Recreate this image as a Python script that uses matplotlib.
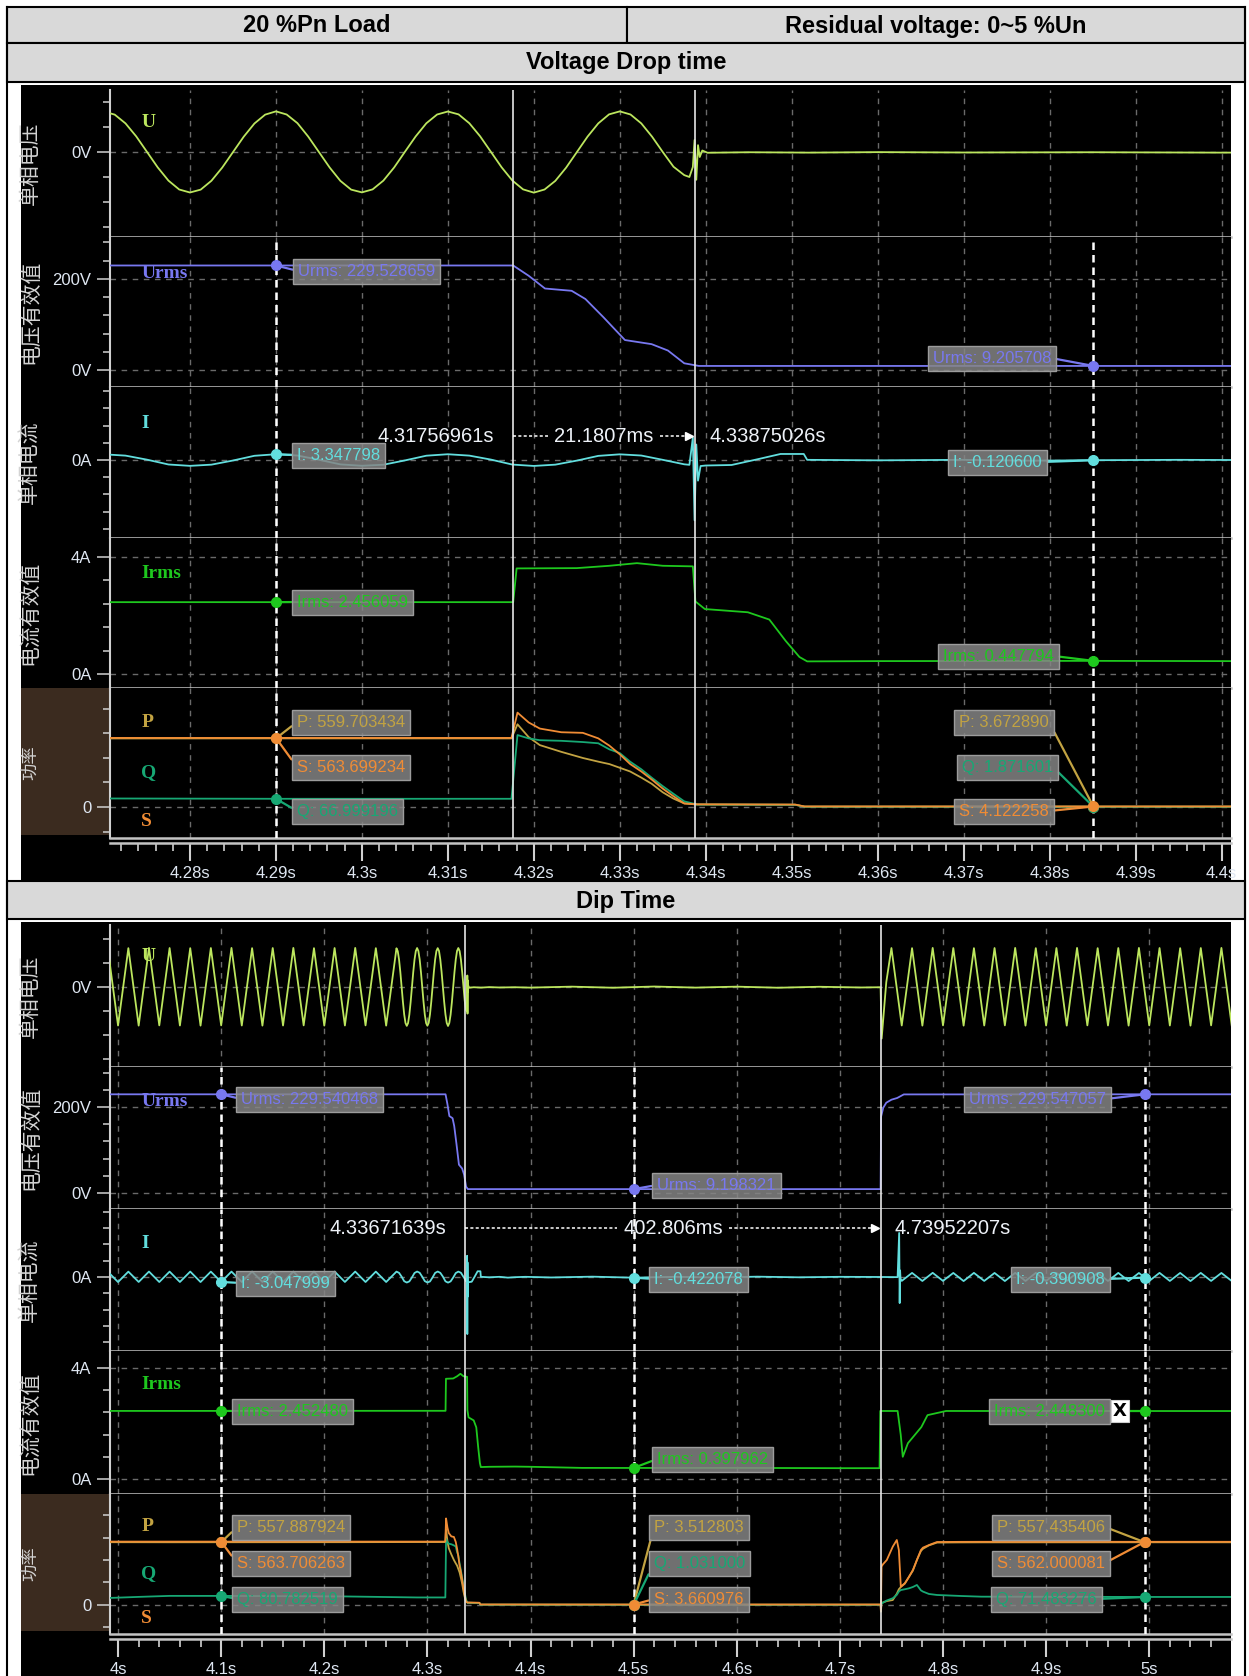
import numpy as np
import matplotlib
matplotlib.use("Agg")
import matplotlib.pyplot as plt
from matplotlib.patches import Rectangle
from matplotlib.lines import Line2D

W, H = 1249, 1676

# ---------------- recorded data ----------------
# phase voltage U (V): half-cycle extremes before the fine window
u_pre_t0, u_pre_dt = 3.99, 0.01
u_pre = [325, -321, 324, -322, 326, -320, 325, -321, 324, -322, 325, -320, 326, -321,
         324, -322, 325, -321, 326, -320, 324, -322, 325, -321, 326, -320, 324, -322]
# fine window around the drop, 1.25 ms samples
u_fine_t0, u_fine_dt = 4.27, 0.00125
u_fine = [323, 299, 229, 125, 1, -123, -229, -300, -324, -301, -230, -125, -2, 122, 228, 299,
          325, 300, 231, 124, 0, -124, -231, -301, -323, -299, -229, -124, 1, 124, 230, 300,
          324, 301, 230, 126, 2, -122, -228, -299, -325, -300, -231, -126, -1, 123, 229, 301,
          325, 300, 229, 123, 0, -118, -185]
# switching transient, dip, restart
u_tail_t = [4.3381, 4.3385, 4.3387, 4.3389, 4.3391, 4.3393, 4.3396, 4.3402, 4.3450, 4.3520,
            4.3600, 4.3700, 4.3850, 4.4000, 4.4400, 4.4800, 4.5200, 4.5600, 4.6000, 4.6400,
            4.6800, 4.7200, 4.7395, 4.7405, 4.7450]
u_tail = [-200, -120, 96, -222, 55, -40, 12, -6, -2, -5, -1, -4, -2, -5, 3, -6, 4, -5, 3, -6,
          2, -4, -2, -430, 40]
# after restoration: half-cycle extremes
u_post_t0, u_post_dt = 4.75, 0.01
u_post = [325, -321, 324, -322, 326, -320, 325, -322, 324, -321, 325, -320, 326, -322, 324, -321,
          325, -322, 326, -320, 324, -321, 325, -322, 326, -320, 325, -321, 324, -322, 325, -320,
          326, -321]

# phase current I (A)
i_pre_t0, i_pre_dt = 3.99, 0.01
i_pre = [3.31, -3.10, 3.28, -3.05, 3.33, -3.08, 3.30, -3.06, 3.32, -3.09, 3.29, -3.047999,
         3.31, -3.07, 3.34, -3.05, 3.30, -3.08, 3.32, -3.06, 3.29, -3.10, 3.33, -3.05,
         3.31, -3.08, 3.30, -3.07]
i_fine_t0, i_fine_dt = 4.27, 0.0025
i_fine = [3.30, 2.55, 0.20, -2.60, -3.40, -2.70, -0.30, 2.45,
          3.347798, 2.60, 0.15, -2.55, -3.35, -2.75, -0.25, 2.50,
          3.35, 2.55, 0.25, -2.65, -3.45, -2.70, -0.35, 2.40,
          3.30, 2.60, 0.10, -2.50]
i_tail_t = [4.3381, 4.3385, 4.3387, 4.3389, 4.3391, 4.3394, 4.3400, 4.3430, 4.3460, 4.3487,
            4.3514, 4.3518, 4.3600, 4.3700, 4.3780, 4.3851, 4.3950, 4.4200, 4.4600, 4.5000,
            4.5400, 4.5800, 4.6200, 4.6600, 4.7000, 4.7395, 4.7560, 4.7575, 4.7580, 4.7584,
            4.7588, 4.7600]
i_tail = [-2.8, 13.0, -35.0, 9.0, -12.0, -3.5, -3.2, -2.9, 0.4, 3.5, 3.5, 0.1, -0.2, 0.1, -0.4,
          -0.1206, 0.1, -0.3, 0.2, -0.422078, 0.1, -0.3, 0.2, -0.2, 0.1, 0.0, -0.1, 27.0, -16.0,
          4.0, -1.0, -2.4]
i_post_t0, i_post_dt = 4.77, 0.01
i_post = [2.50, -2.45, 2.55, -2.40, 2.48, -2.50, 2.52, -2.42, 2.47, -2.48, 2.53, -2.44,
          2.50, -2.46, 2.49, -2.41, 2.54, -2.47, 2.46, -2.43, 2.51, -2.49, 2.45, -2.45,
          2.52, -2.44, 2.48, -2.50, 2.50, -2.42, 2.47, -2.46]

# RMS voltage (V)
urms_t = [3.99, 4.10, 4.20, 4.29, 4.3176, 4.3194, 4.3213, 4.3244, 4.3260, 4.3281, 4.3306,
          4.3337, 4.3356, 4.3375, 4.3392, 4.3851, 4.5000, 4.7395, 4.7400, 4.7420, 4.7450,
          4.7500, 4.7556, 4.7620, 4.9958, 5.08]
urms = [229.54, 229.540468, 229.53, 229.528659, 229.52, 207, 179, 174, 156, 116, 66, 57, 43,
        15, 9.2, 9.205708, 9.198321, 9.2, 178, 198, 210, 217, 221, 229.3, 229.547057, 229.55]

# RMS current (A)
irms_t = [3.99, 4.10, 4.29, 4.3176, 4.3180, 4.3250, 4.3288, 4.3320, 4.3350, 4.3385, 4.3388,
          4.3399, 4.3449, 4.3474, 4.3493, 4.3509, 4.3518, 4.3600, 4.3851, 4.4000, 4.4500,
          4.5000, 4.6000, 4.7000, 4.7385, 4.7392, 4.7560, 4.7590, 4.7610, 4.7660, 4.7790,
          4.7850, 4.8030, 4.9958, 5.08]
irms = [2.452, 2.452480, 2.456059, 2.456, 3.61, 3.62, 3.70, 3.79, 3.70, 3.68, 2.48, 2.22, 2.11,
        1.86, 1.13, 0.58, 0.43, 0.44, 0.447794, 0.44, 0.40, 0.397962, 0.40, 0.39, 0.39, 2.45,
        2.45, 1.60, 0.80, 1.29, 1.87, 2.30, 2.45, 2.448300, 2.448]

# power: P (W), Q (var), S (VA) on one time base
pw_t = [3.99, 4.02, 4.05, 4.10, 4.22, 4.29, 4.3174, 4.3181, 4.3194, 4.3207, 4.3232, 4.3257,
        4.3275, 4.3288, 4.3300, 4.3312, 4.3325, 4.3337, 4.3350, 4.3362, 4.3375, 4.3390,
        4.3504, 4.3515, 4.3851, 4.5000, 4.7395, 4.7398, 4.7404, 4.7416, 4.7455, 4.7513,
        4.7552, 4.7572, 4.7591, 4.7630, 4.7670, 4.7708, 4.7747, 4.7786, 4.7806, 4.7864,
        4.7942, 4.8176, 4.8370, 4.9958, 5.08]
p_w = [558.2, 558.0, 557.6, 557.887924, 558.4, 559.703434, 559.7, 675, 570, 505, 450, 400,
       370, 350, 320, 290, 240, 190, 120, 70, 29, 20, 18, 3.7, 3.672890, 3.512803, 3.5, -60,
       15, 22, 35, 44, 100, 140, 160, 190, 250, 305, 400, 480, 500, 530, 555, 556.5, 557,
       557.435406, 557.4]
q_var = [62, 72, 81, 80.782519, 76, 66.999196, 67, 587, 560, 545, 540, 530, 520, 470, 440,
         370, 308, 240, 170, 110, 46, 20, 18, 1.9, 1.871601, 1.031, 1.0, 0, 10, 20, 40, 60,
         90, 120, 133, 140, 148, 160, 178, 130, 119, 98, 89, 80, 74, 71.483276, 71.5]
s_va = [563.7, 563.7, 563.7, 563.706263, 563.7, 563.699234, 563.7, 770, 690, 640, 610, 605,
        560, 500, 430, 351, 290, 225, 150, 90, 29, 22, 20, 4.1, 4.122258, 3.660976, 3.7, -45,
        341, 360, 400, 519, 578, 489, 163, 193, 250, 311, 400, 489, 510, 533, 560, 561.5, 562,
        562.000081, 562.0]

row_titles = ['单相电压', '电压有效值', '单相电流', '电流有效值', '功率']


def seg(t0, dt, vals):
    return t0 + dt * np.arange(len(vals))


u_t = np.concatenate([seg(u_pre_t0, u_pre_dt, u_pre), seg(u_fine_t0, u_fine_dt, u_fine),
                      u_tail_t, seg(u_post_t0, u_post_dt, u_post)])
u_v = np.concatenate([u_pre, u_fine, u_tail, u_post])
i_t = np.concatenate([seg(i_pre_t0, i_pre_dt, i_pre), seg(i_fine_t0, i_fine_dt, i_fine),
                      i_tail_t, seg(i_post_t0, i_post_dt, i_post)])
i_v = np.concatenate([i_pre, i_fine, i_tail, i_post])

COL = dict(U='#bce65e', Urms='#7878f0', I='#62dede', Irms='#1ec81e',
           P='#c2a342', Q='#17a874', S='#f08c35')

SERIES = [
    [('U', u_t, u_v)],
    [('Urms', urms_t, urms)],
    [('I', i_t, i_v)],
    [('Irms', irms_t, irms)],
    [('P', pw_t, p_w), ('Q', pw_t, q_var), ('S', pw_t, s_va)],
]
NAMES = [[('U', .22)], [('Urms', .24)], [('I', .24)], [('Irms', .235)],
         [('P', .23), ('Q', .565), ('S', .89)]]
YTICKS = [
    ([0], ['0V'], [-600, -400, -200, 200, 400]),
    ([0, 200], ['0V', '200V'], [40, 80, 120, 160, 240, 280]),
    ([0], ['0A'], [-40, -30, -20, -10, 10, 20, 30, 40]),
    ([0, 4], ['0A', '4A'], [0.8, 1.6, 2.4, 3.2]),
    ([0], ['0'], [-200, 200, 400, 600, 800]),
]

PANELS = [
    dict(xlim=(4.2707, 4.4011), rows=[90, 237, 387, 538, 688, 838],
         ylims=[(-680, 496), (-37, 292), (-45.3, 42.4), (-0.48, 4.65), (-253, 971)],
         first=4.28, last=4.40, major=0.01, minor=0.002,
         t1=4.31756961, t2=4.33875026, span='21.1807ms', span_y=436,
         cursors=[
             (4.29, [(1, 'Urms', 229.528659, 293, 271, 'r'),
                     (2, 'I', 3.347798, 292, 455, 'r'),
                     (3, 'Irms', 2.456059, 292, 602, 'r'),
                     (4, 'P', 559.703434, 292, 722, 'r'),
                     (4, 'S', 563.699234, 292, 767, 'r'),
                     (4, 'Q', 66.999196, 292, 811, 'r')]),
             (4.3851, [(1, 'Urms', 9.205708, 1056, 358, 'l'),
                       (2, 'I', -0.120600, 1047, 462, 'l'),
                       (3, 'Irms', 0.447794, 1059, 656, 'l'),
                       (4, 'P', 3.672890, 1054, 722, 'l'),
                       (4, 'Q', 1.871601, 1058, 767, 'l'),
                       (4, 'S', 4.122258, 1054, 811, 'l')]),
         ]),
    dict(xlim=(3.9922, 5.0793), rows=[925, 1067, 1209, 1351, 1494, 1634],
         ylims=[(-667, 517), (-37, 293), (-45.4, 41.7), (-0.54, 4.61), (-258, 987)],
         first=4.0, last=5.0, major=0.1, minor=0.02,
         t1=4.33671639, t2=4.73952207, span='402.806ms', span_y=1228,
         cursors=[
             (4.1, [(1, 'Urms', 229.540468, 236, 1099, 'r'),
                    (2, 'I', -3.047999, 236, 1283, 'r'),
                    (3, 'Irms', 2.452480, 232, 1411, 'r'),
                    (4, 'P', 557.887924, 232, 1527, 'r'),
                    (4, 'S', 563.706263, 232, 1563, 'r'),
                    (4, 'Q', 80.782519, 232, 1599, 'r')]),
             (4.5, [(1, 'Urms', 9.198321, 652, 1185, 'r'),
                    (2, 'I', -0.422078, 649, 1279, 'r'),
                    (3, 'Irms', 0.397962, 652, 1459, 'r'),
                    (4, 'P', 3.512803, 649, 1527, 'r'),
                    (4, 'Q', 1.031000, 649, 1563, 'r'),
                    (4, 'S', 3.660976, 649, 1599, 'r')]),
             (4.9958, [(1, 'Urms', 229.547057, 1111, 1099, 'l'),
                       (2, 'I', -0.390908, 1110, 1279, 'l'),
                       (3, 'Irms', 2.448300, 1110, 1411, 'l'),
                       (4, 'P', 557.435406, 1110, 1527, 'l'),
                       (4, 'S', 562.000081, 1110, 1563, 'l'),
                       (4, 'Q', 71.483276, 1102, 1599, 'l')]),
         ]),
]

plt.rcParams['font.family'] = ['Liberation Sans', 'Noto Sans CJK SC', 'DejaVu Sans']

fig = plt.figure(figsize=(W / 100, H / 100), dpi=100)
renderer = fig.canvas.get_renderer()


def box(x0, y0, x1, y1):
    return [x0 / W, 1 - y1 / H, (x1 - x0) / W, (y1 - y0) / H]


# table frame and black scope panels
bg = fig.add_axes([0, 0, 1, 1])
bg.set_xlim(0, W)
bg.set_ylim(H, 0)
bg.axis('off')
for y0, y1 in [(85, 880), (922, H)]:
    bg.add_patch(Rectangle((21, y0), 1210, y1 - y0, fc='black', ec='none'))
for x0, y0, x1, y1 in [(7, 7, 627, 43), (627, 7, 1245, 43), (7, 43, 1245, 82), (7, 881, 1245, 919)]:
    bg.add_patch(Rectangle((x0, y0), x1 - x0, y1 - y0, fc='#d9d9d9', ec='black', lw=1.5))
bg.plot([7, 7], [7, H], color='black', lw=1.5)
bg.plot([1245, 1245], [7, H], color='black', lw=1.5)
hdr = dict(ha='center', va='center', fontsize=17, fontweight='bold', color='black')
bg.text(317, 26, '20 %Pn Load', **hdr)
bg.text(936, 26, 'Residual voltage: 0~5 %Un', **hdr)
bg.text(626, 63, 'Voltage Drop time', **hdr)
bg.text(626, 901, 'Dip Time', **hdr)

LEFT, RIGHT = 110, 1231
GRID = dict(color='#6a6a6a', lw=1, ls=(0, (4, 4)), zorder=1)
TICKC = '#d0d0d0'
LABC = '#dfe7f2'

for p in PANELS:
    x0, x1 = p['xlim']
    majors = np.round(np.arange(p['first'], p['last'] + 1e-9, p['major']), 4)
    minors = [v for v in np.round(np.arange(np.ceil(x0 / p['minor']) * p['minor'], x1, p['minor']), 4)
              if not np.isclose(v, majors).any()]
    rows = p['rows']
    axes = []
    for k in range(5):
        top, bot = rows[k], rows[k + 1]
        ax = fig.add_axes(box(LEFT, top, RIGHT, bot))
        ax.set_facecolor('black')
        ax.set_xlim(x0, x1)
        ax.set_ylim(*p['ylims'][k])
        for s in ('top', 'right'):
            ax.spines[s].set_visible(False)
        ax.spines['left'].set_color(TICKC)
        ax.spines['left'].set_linewidth(1.5)
        ax.spines['bottom'].set_color('#c4c4c4')
        ax.spines['bottom'].set_linewidth(1.8)
        ax.tick_params(axis='x', bottom=False, labelbottom=False)
        maj, labs, mnr = YTICKS[k]
        ax.set_yticks(maj)
        ax.set_yticklabels(labs)
        ax.set_yticks(mnr, minor=True)
        ax.tick_params(axis='y', which='major', length=9.5, width=1.1, color=TICKC,
                       labelcolor=LABC, labelsize=12, pad=4)
        ax.tick_params(axis='y', which='minor', length=5, width=1.1, color=TICKC)
        for v in majors:
            ax.axvline(v, **GRID)
        for v in maj:
            ax.axhline(v, **GRID)
        for key, t, v in SERIES[k]:
            ax.plot(t, v, color=COL[key], lw=1.3, zorder=3)
        for name, fy in NAMES[k]:
            ax.text(0.028, 1 - fy, name, transform=ax.transAxes, ha='left', va='center',
                    color=COL[name], fontsize=14, fontweight='bold', family='Liberation Serif',
                    zorder=2)
        fig.text(30 / W, 1 - (top + bot) / 2 / H, row_titles[k], rotation=90, ha='center',
                 va='center', color='#d4d4d4', fontsize=15 if k < 4 else 12.5,
                 family=['Noto Sans CJK SC', 'DejaVu Sans'])
        if k == 4:
            bg.add_patch(Rectangle((21, top), LEFT - 21, bot - top - 3, fc='#3b2b1f', ec='none'))
        axes.append(ax)

    # solid time cursors
    for t in (p['t1'], p['t2']):
        for ax in axes:
            ax.axvline(t, color='#e6e6e6', lw=1.2, zorder=4)

    # value cursors with readout boxes
    for t, tags in p['cursors']:
        for ax in axes[1:]:
            ax.axvline(t, color='white', lw=1.8, ls=(0, (3, 2)), zorder=4)
        for k, key, val, edge, cy, side in tags:
            ax = axes[k]
            c = COL[key]
            right = side == 'r'
            ax.annotate(f'{key}: {val:.6f}', xy=(t, val),
                        xytext=(edge + (5 if right else -5), H - cy), textcoords='figure pixels',
                        ha='left' if right else 'right', va='center', color=c, fontsize=12,
                        bbox=dict(boxstyle='square,pad=0.3', fc=(0.52, 0.52, 0.52, 0.85),
                                  ec='#9c9c9c', lw=1),
                        arrowprops=dict(arrowstyle='-', color=c, lw=1.6, shrinkA=0, shrinkB=0,
                                        relpos=(0 if right else 1, 0.5)),
                        annotation_clip=False, zorder=6)
            ax.plot([t], [val], 'o', ms=7, color=c, zorder=7, clip_on=False)

    # time difference between the two solid cursors
    def px(t):
        return LEFT + (t - x0) / (x1 - x0) * (RIGHT - LEFT)

    xa, xb = px(p['t1']), px(p['t2'])
    fy = 1 - p['span_y'] / H
    note = dict(va='center', color='#eef2f8', fontsize=14.5)
    fig.text((xa - 19) / W, fy, f"{p['t1']:.8f}s", ha='right', **note)
    fig.text((xb + 14) / W, fy, f"{p['t2']:.8f}s", ha='left', **note)
    mid = fig.text((xa + xb) / 2 / W, fy, p['span'], ha='center', **note)
    bb = mid.get_window_extent(renderer)
    dash = dict(color='white', lw=1.1, ls=(0, (2, 1.5)))
    fig.add_artist(Line2D([xa / W, (bb.x0 - 6) / W], [fy, fy], **dash))
    fig.add_artist(Line2D([(bb.x1 + 6) / W, (xb - 6) / W], [fy, fy], **dash))
    fig.add_artist(Line2D([(xb - 6) / W], [fy], marker='>', ms=6, color='white', lw=0))

    # time ruler under the power row
    ry = rows[-1] + 5
    rax = fig.add_axes(box(LEFT, ry - 1, RIGHT, ry))
    rax.set_facecolor('none')
    rax.set_xlim(x0, x1)
    for s in ('top', 'left', 'right'):
        rax.spines[s].set_visible(False)
    rax.spines['bottom'].set_color('#c4c4c4')
    rax.spines['bottom'].set_linewidth(1.8)
    rax.set_yticks([])
    rax.set_xticks(majors)
    rax.set_xticklabels([f'{v:g}s' for v in majors])
    rax.set_xticks(minors, minor=True)
    rax.tick_params(axis='x', which='major', direction='out', length=13, width=1.5,
                    color=TICKC, labelcolor=LABC, labelsize=12, pad=3.5)
    rax.tick_params(axis='x', which='minor', direction='out', length=6, width=1.2, color=TICKC)

# close button on the last readout box
fig.text(1120 / W, 1 - 1411 / H, 'X', ha='center', va='center', fontsize=13, fontweight='bold',
         color='black', family='DejaVu Sans',
         bbox=dict(boxstyle='square,pad=0.12', fc='white', ec='#cccccc', lw=0.8))

fig.savefig('out.png', dpi=100, facecolor='white')
